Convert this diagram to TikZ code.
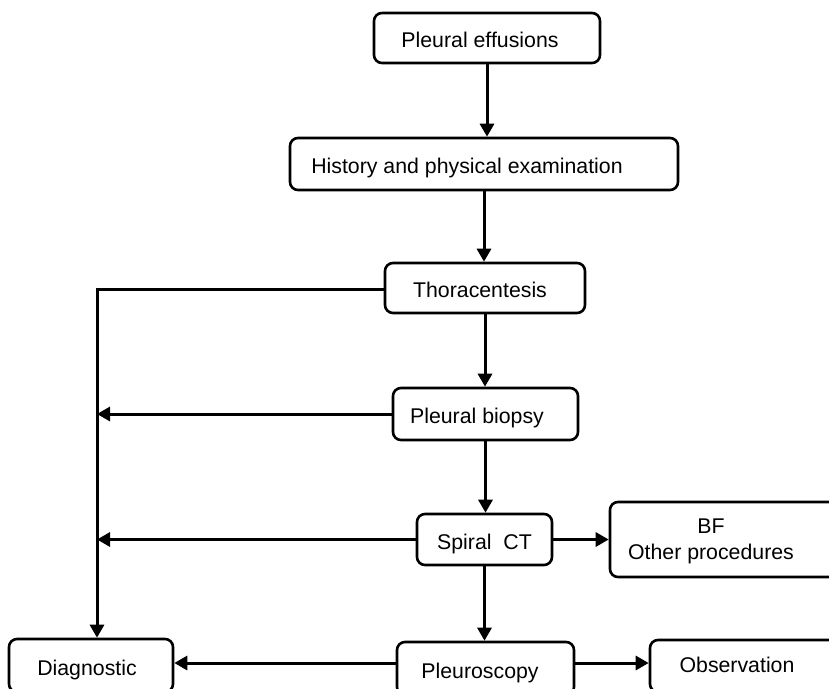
\documentclass[tikz,border=0pt]{standalone}
\usepackage{fontspec}
\setmainfont{Liberation Sans}
\usetikzlibrary{arrows.meta,calc}
\begin{document}
\begin{tikzpicture}[x=1pt,y=-1pt,
  box/.style={draw, line width=2.6pt, rounded corners=8pt, inner sep=0pt,
    font=\fontsize{21.3}{26}\selectfont, text height=19.2pt, text depth=0pt},
  frame/.style={draw, line width=2.6pt, rounded corners=8pt, inner sep=0pt},
  lbl/.style={inner sep=0pt, font=\fontsize{21.3}{26}\selectfont, align=center},
  conn/.style={line width=3pt},
  arr/.style={line width=3pt, -{Triangle[length=13pt,width=14pt]}}]
\clip (0,0) rectangle (829,688);
\fill[white] (0,0) rectangle (829,688);
% boxes
\node[box, minimum width=226pt, minimum height=50pt] (eff) at (487,38) {Pleural effusions\hspace*{14pt}};
\node[box, minimum width=388pt, minimum height=52pt] (hist) at (484,164) {History and physical examination\hspace*{34pt}};
\node[box, minimum width=200pt, minimum height=50pt] (thor) at (485,288) {Thoracentesis\hspace*{10pt}};
\node[box, minimum width=185pt, minimum height=52pt] (biop) at (485.5,414) {Pleural biopsy\hspace*{17pt}};
\node[box, minimum width=135pt, minimum height=51pt] (ct) at (484.5,539.5) {Spiral\ \ CT};
\node[frame, minimum width=240pt, minimum height=75pt] (bf) at (730,539.5) {};
\node[lbl] (bftext) at (711,541) {BF\\Other procedures};
\node[box, minimum width=164pt, minimum height=53pt] (diag) at (91,665.5) {Diagnostic\hspace*{8pt}};
\node[box, minimum width=177pt, minimum height=53pt] (pleu) at (485.5,668.5) {Pleuroscopy\hspace*{11pt}};
\node[frame, minimum width=210pt, minimum height=52pt] (obs) at (755,666) {};
\node[lbl] (obstext) at (737,665) {Observation};
% coordinates
\coordinate (trunk) at (97,289);
\coordinate (bot) at (0,663);
% connectors
\draw[arr] (eff.south) -- (eff.south |- hist.north);
\draw[arr] (hist.south) -- (hist.south |- thor.north);
\draw[arr] (thor.south) -- (thor.south |- biop.north);
\draw[arr] (biop.south) -- (biop.south |- ct.north);
\draw[arr] (ct.south) -- (ct.south |- pleu.north);
\draw[conn] (thor.west |- trunk) -- (trunk);
\draw[arr] ([yshift=1.5pt]trunk) -- (trunk |- diag.north);
\draw[arr] (biop.west) -- (trunk |- biop.west);
\draw[arr] (ct.west) -- (trunk |- ct.west);
\draw[arr] (ct.east) -- (bf.west |- ct.east);
\draw[arr] (pleu.west |- bot) -- (diag.east |- bot);
\draw[arr] (pleu.east |- bot) -- (obs.west |- bot);
\end{tikzpicture}
\end{document}
